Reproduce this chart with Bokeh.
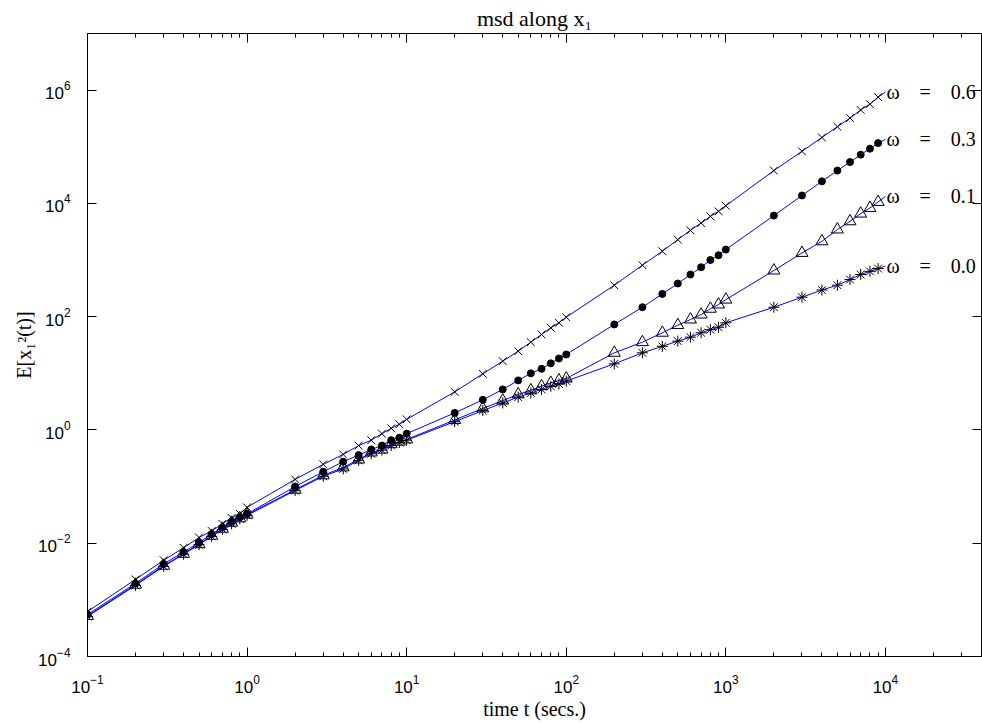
from bokeh.plotting import figure
from bokeh.models import Range1d, FixedTicker, LogAxis, CustomJSTickFormatter, ColumnDataSource
from bokeh.core.properties import value
from bokeh.embed import file_html
from bokeh.resources import INLINE

# time points (secs.)
t = [0.1, 0.2, 0.3, 0.4, 0.5, 0.6, 0.7, 0.8, 0.9,
     1, 2, 3, 4, 5, 6, 7, 8, 9,
     10, 20, 30, 40, 50, 60, 70, 80, 90,
     100, 200, 300, 400, 500, 600, 700, 800, 900,
     1000, 2000, 3000, 4000, 5000, 6000, 7000, 8000, 9000,
     10000]

msd_w06 = [6.2e-4, 2.3e-3, 5.0e-3, 8.3e-3, 1.26e-2, 1.65e-2, 2.2e-2, 2.8e-2, 3.3e-2,
           4.3e-2, 0.134, 0.247, 0.37, 0.53, 0.66, 0.86, 1.07, 1.26,
           1.54, 4.7, 9.8, 16.4, 24.6, 35.5, 48.5, 63.5, 78,
           98, 359, 812, 1430, 2290, 3350, 4510, 5900, 7240,
           9100, 38000, 83000, 146000, 226000, 321000, 446000, 566000, 753000,
           922000]

msd_w03 = [5.5e-4, 1.95e-3, 4.3e-3, 7.0e-3, 1.02e-2, 1.45e-2, 1.9e-2, 2.4e-2, 2.9e-2,
           3.3e-2, 0.10, 0.183, 0.275, 0.36, 0.45, 0.53, 0.66, 0.73,
           0.86, 2.0, 3.4, 5.2, 7.5, 10, 12, 15, 18.3,
           21.5, 73, 147, 252, 385, 555, 746, 1000, 1217,
           1530, 6100, 13800, 24500, 38000, 53700, 72500, 92500, 116000,
           135000]

msd_w01 = [5.2e-4, 1.85e-3, 4.0e-3, 6.5e-3, 9.6e-3, 1.35e-2, 1.8e-2, 2.3e-2, 2.75e-2,
           3.2e-2, 0.088, 0.158, 0.218, 0.30, 0.40, 0.45, 0.56, 0.62,
           0.68, 1.5, 2.4, 3.3, 4.25, 5.0, 5.9, 6.8, 7.5,
           8.1, 23, 35.5, 52, 71, 89, 109, 138, 164,
           200, 653, 1334, 2140, 3460, 4830, 6600, 8300, 10600,
           13300]

msd_w00 = [5.1e-4, 1.8e-3, 3.9e-3, 6.4e-3, 9.4e-3, 1.32e-2, 1.75e-2, 2.2e-2, 2.7e-2,
           3.1e-2, 0.085, 0.152, 0.205, 0.29, 0.38, 0.44, 0.53, 0.60,
           0.66, 1.4, 2.2, 3.0, 3.8, 4.5, 5.2, 5.9, 6.5,
           7.3, 14.7, 23, 30, 37, 43.5, 52, 59, 65,
           78, 147, 221, 296, 360, 453, 555, 632, 708,
           780]

series_labels = ["ω\u2003=\u20030.6", "ω\u2003=\u20030.3", "ω\u2003=\u20030.1", "ω\u2003=\u20030.0"]

x_major_ticks = [0.1, 1, 10, 100, 1000, 10000]
y_major_ticks = [1e-4, 1e-2, 1, 1e2, 1e4, 1e6]

x_minor_ticks = [m * d for d in [0.1, 1, 10, 100, 1000, 10000] for m in range(2, 10) if m * d < 4e4]

p = figure(width=982, height=722, x_axis_type="log", y_axis_type="log",
           x_range=Range1d(0.1, 4e4), y_range=Range1d(1e-4, 1e7),
           output_backend="svg", toolbar_location=None,
           min_border_left=87, min_border_right=1, min_border_top=33, min_border_bottom=66)

p.title.text = "msd along x\u2081"
p.title.align = "center"
p.title.text_font = "Liberation Serif"
p.title.text_font_size = "22px"
p.title.text_font_style = "normal"
p.title.text_color = "black"
p.title.standoff = 5

p.grid.visible = False
p.outline_line_color = "black"
p.outline_line_width = 1
p.background_fill_color = "white"
p.border_fill_color = "white"

def style_axis(ax, major, minor):
    ax.ticker = FixedTicker(ticks=major, minor_ticks=minor)
    ax.major_tick_in = 9
    ax.major_tick_out = 0
    ax.minor_tick_in = 4
    ax.minor_tick_out = 0
    ax.axis_line_color = "black"
    ax.major_tick_line_color = "black"
    ax.minor_tick_line_color = "black"
    ax.major_label_text_font = "Liberation Sans"
    ax.major_label_text_font_size = "17px"
    ax.major_label_text_color = "black"

style_axis(p.xaxis[0], x_major_ticks, x_minor_ticks)
style_axis(p.yaxis[0], y_major_ticks, [])
p.xaxis[0].major_label_standoff = 18
p.yaxis[0].major_label_standoff = 17

p.xaxis[0].axis_label = "time t (secs.)"
p.yaxis[0].axis_label = "E[x\u2081\u00b2(t)]"
for ax in (p.xaxis[0], p.yaxis[0]):
    ax.axis_label_text_font = "Liberation Serif"
    ax.axis_label_text_font_style = "normal"
    ax.axis_label_text_font_size = "20px"
    ax.axis_label_text_color = "black"
p.xaxis[0].axis_label_standoff = 2
p.yaxis[0].axis_label_standoff = 0

blank = CustomJSTickFormatter(code="return ''")
top_ax = LogAxis(formatter=blank, major_label_standoff=0)
style_axis(top_ax, x_major_ticks, x_minor_ticks)
p.add_layout(top_ax, "above")
right_ax = LogAxis(formatter=blank, major_label_standoff=0)
style_axis(right_ax, y_major_ticks, [])
p.add_layout(right_ax, "right")

all_series = [msd_w06, msd_w03, msd_w01, msd_w00]
markers = ["x", "circle", "triangle", "asterisk"]
sizes = [11, 7, 12, 11]
fills = [None, "black", None, None]

for vals, mk, sz, fc in zip(all_series, markers, sizes, fills):
    p.line(t, vals, line_color="#0000ff", line_width=1)
    p.scatter(t[:-1], vals[:-1], marker=mk, size=sz, line_color="black",
              fill_color=fc, line_width=1)

lab_src = ColumnDataSource(dict(x=[t[-1]] * 4, y=[v[-1] for v in all_series], text=series_labels))
p.text(x="x", y="y", text="text", source=lab_src, text_font=value("Liberation Serif"),
       text_font_size="20px", text_baseline="middle", text_align="left", x_offset=1,
       text_color="black")

open("out.html", "w").write(file_html(p, INLINE))
